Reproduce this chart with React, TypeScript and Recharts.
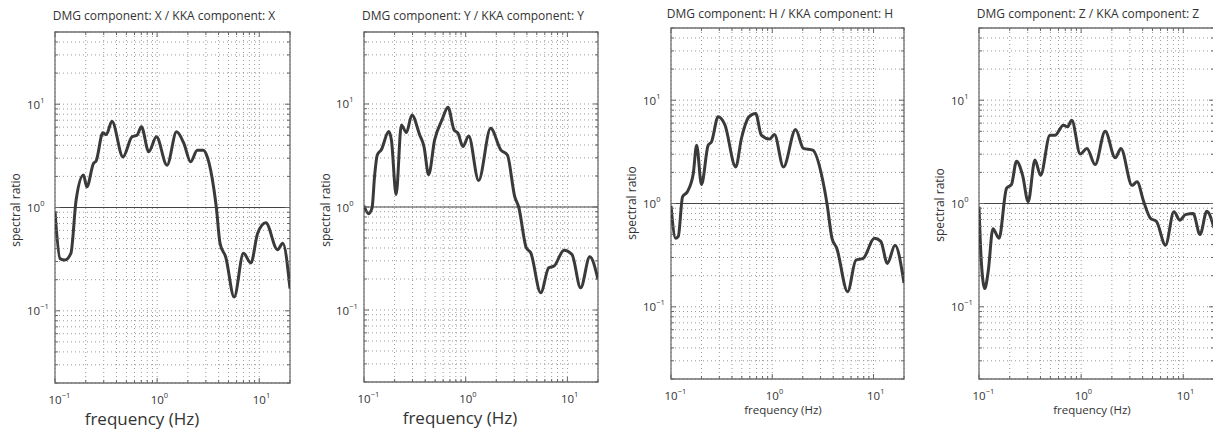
import React from 'react';
import {
  LineChart,
  Line,
  XAxis,
  YAxis,
  CartesianGrid,
  ReferenceLine,
  ReferenceArea,
  Customized,
} from 'recharts';

// ---------- data ----------
const xTicks = [0.1, 0.2, 0.3, 0.4, 0.5, 0.6, 0.7, 0.8, 0.9, 1, 2, 3, 4, 5, 6, 7, 8, 9, 10, 20];
const yTicks = [
  0.02, 0.03, 0.04, 0.05, 0.06, 0.07, 0.08, 0.09,
  0.1, 0.2, 0.3, 0.4, 0.5, 0.6, 0.7, 0.8, 0.9,
  1, 2, 3, 4, 5, 6, 7, 8, 9,
  10, 20, 30, 40, 50,
];
const decadeValues = [0.1, 1, 10];
const decadeExponents = ['\u22121', '0', '1'];

const titles = [
  'DMG component: X / KKA component: X',
  'DMG component: Y / KKA component: Y',
  'DMG component: H / KKA component: H',
  'DMG component: Z / KKA component: Z',
];
const xLabel = 'frequency (Hz)';
const yLabel = 'spectral ratio';

const freqX = [0.1, 0.112, 0.125, 0.143, 0.161, 0.19, 0.205, 0.238, 0.253, 0.294, 0.318, 0.361, 0.463, 0.568, 0.636, 0.701, 0.828, 0.984, 1.25, 1.55, 1.83, 2.13, 2.47, 2.83, 3.1, 3.61, 3.8, 4.13, 4.7, 5.68, 7.0, 8.28, 9.63, 11.6, 15.1, 17.0, 20];
const ratioX = [0.92, 0.32, 0.31, 0.36, 1.18, 2.06, 1.58, 2.67, 2.83, 5.28, 5.08, 6.84, 3.09, 4.83, 5.01, 6.04, 3.46, 4.83, 2.57, 5.4, 4.16, 2.77, 3.59, 3.59, 3.09, 1.47, 1.0, 0.45, 0.33, 0.136, 0.36, 0.29, 0.56, 0.71, 0.39, 0.45, 0.164];

const freqY = [0.1, 0.111, 0.12, 0.127, 0.135, 0.148, 0.175, 0.186, 0.207, 0.233, 0.261, 0.296, 0.353, 0.389, 0.432, 0.495, 0.585, 0.67, 0.768, 0.84, 0.94, 1.07, 1.34, 1.76, 2.21, 2.57, 3.03, 3.32, 3.95, 4.36, 5.47, 6.55, 7.39, 9.27, 11.1, 13.5, 16.6, 20];
const ratioY = [1.03, 0.86, 0.98, 1.98, 3.2, 3.59, 5.4, 4.48, 1.32, 6.26, 5.28, 7.83, 5.0, 3.86, 2.06, 4.48, 7.0, 9.3, 5.6, 5.2, 3.87, 4.9, 1.81, 5.8, 3.59, 3.2, 1.27, 1.0, 0.4, 0.36, 0.147, 0.257, 0.267, 0.381, 0.346, 0.164, 0.328, 0.198];

const freqH = [0.1, 0.111, 0.118, 0.13, 0.145, 0.166, 0.179, 0.2, 0.233, 0.251, 0.292, 0.34, 0.436, 0.496, 0.589, 0.686, 0.78, 0.94, 1.05, 1.29, 1.7, 2.03, 2.51, 3.15, 3.47, 3.89, 4.33, 5.55, 6.7, 7.9, 10.2, 11.8, 13.7, 16.3, 20];
const ratioH = [0.95, 0.46, 0.48, 1.16, 1.3, 1.95, 3.67, 1.53, 3.67, 3.95, 6.9, 5.8, 2.26, 4.26, 6.9, 7.43, 4.59, 4.2, 4.65, 2.26, 5.2, 3.41, 3.28, 1.68, 1.0, 0.46, 0.37, 0.14, 0.283, 0.294, 0.46, 0.43, 0.263, 0.395, 0.17];

const freqZ = [0.1, 0.105, 0.114, 0.123, 0.137, 0.157, 0.186, 0.208, 0.233, 0.267, 0.303, 0.353, 0.401, 0.495, 0.555, 0.67, 0.734, 0.81, 0.98, 1.14, 1.37, 1.72, 2.16, 2.45, 3.15, 3.53, 4.1, 4.77, 5.47, 6.7, 8.1, 9.27, 10.5, 12.5, 14.6, 17.0, 20];
const ratioZ = [0.93, 0.29, 0.15, 0.22, 0.57, 0.46, 1.4, 1.53, 2.57, 1.88, 1.04, 2.63, 1.88, 4.58, 4.58, 5.73, 5.52, 6.4, 3.02, 3.41, 2.38, 5.0, 2.77, 3.41, 1.5, 1.62, 1.04, 0.72, 0.67, 0.395, 0.83, 0.69, 0.78, 0.8, 0.5, 0.84, 0.58];

const zip = (fs: number[], vs: number[]) => fs.map((f, i) => ({ f, v: vs[i] }));
const seriesData = [zip(freqX, ratioX), zip(freqY, ratioY), zip(freqH, ratioH), zip(freqZ, ratioZ)];

// ---------- layout (positions / styles) ----------
const layout = [
  { left: 0, width: 300, pl: 55, pr: 290, pt: 32, pb: 383, titleX: 164, titleY: 20, xlX: 142, xlY: 425, xlSize: 17, ylX: 15, ylY: 210 },
  { left: 300, width: 310, pl: 64, pr: 298, pt: 32, pb: 382, titleX: 173, titleY: 20, xlX: 160, xlY: 424, xlSize: 17, ylX: 25, ylY: 210 },
  { left: 610, width: 300, pl: 61, pr: 294, pt: 28, pb: 379, titleX: 170, titleY: 18, xlX: 173, xlY: 414, xlSize: 11.5, ylX: 21, ylY: 203 },
  { left: 910, width: 306, pl: 69, pr: 304, pt: 28, pb: 379, titleX: 178, titleY: 18, xlX: 182, xlY: 414, xlSize: 11.5, ylX: 29, ylY: 205 },
];

const FONT = "'Open Sans', 'Noto Sans', sans-serif";
const TEXT = '#333';
const TICK = '#666';

const decadeIndex = (v: number) => decadeValues.findIndex((d) => Math.abs(d - v) < 1e-9);

function BottomTick(props: any) {
  const { x, y, payload } = props;
  const i = decadeIndex(payload.value);
  const len = i >= 0 ? 5 : 3;
  return (
    <g>
      <line x1={x} x2={x} y1={y} y2={y - len} stroke={TICK} strokeWidth={1} />
      {i >= 0 && (
        <text x={x - 6.5} y={y + 21} fontSize={11.5} fill={TEXT} fontFamily={FONT} textAnchor="start">
          10
          <tspan dy={-6} fontSize={7.5}>{decadeExponents[i]}</tspan>
        </text>
      )}
    </g>
  );
}

function TopTick(props: any) {
  const { x, y, payload } = props;
  const i = decadeIndex(payload.value);
  const len = i >= 0 ? 5 : 3;
  return <line x1={x} x2={x} y1={y} y2={y + len} stroke={TICK} strokeWidth={1} />;
}

function LeftTick(props: any) {
  const { x, y, payload } = props;
  const i = decadeIndex(payload.value);
  const len = i >= 0 ? 5 : 3;
  return (
    <g>
      <line x1={x} x2={x + len} y1={y} y2={y} stroke={TICK} strokeWidth={1} />
      {i >= 0 && (
        <text x={x - 28} y={y + 4.5} fontSize={11.5} fill={TEXT} fontFamily={FONT} textAnchor="start">
          10
          <tspan dy={-6} fontSize={7.5}>{decadeExponents[i]}</tspan>
        </text>
      )}
    </g>
  );
}

function RightTick(props: any) {
  const { x, y, payload } = props;
  const i = decadeIndex(payload.value);
  const len = i >= 0 ? 5 : 3;
  return <line x1={x} x2={x - len} y1={y} y2={y} stroke={TICK} strokeWidth={1} />;
}

function PanelText(props: any) {
  const { lay, title } = props;
  return (
    <g fontFamily={FONT} fill={TEXT}>
      <text x={lay.titleX} y={lay.titleY} textAnchor="middle" fontSize={12}>
        {title}
      </text>
      <text x={lay.xlX} y={lay.xlY} textAnchor="middle" fontSize={lay.xlSize}>
        {xLabel}
      </text>
      <text
        x={lay.ylX}
        y={lay.ylY}
        textAnchor="middle"
        dominantBaseline="central"
        fontSize={12}
        transform={`rotate(-90, ${lay.ylX}, ${lay.ylY})`}
      >
        {yLabel}
      </text>
    </g>
  );
}

function Panel({ idx }: { idx: number }) {
  const lay = layout[idx];
  const H = 439;
  return (
    <div style={{ position: 'absolute', left: lay.left, top: 0 }}>
      <LineChart
        width={lay.width}
        height={H}
        data={seriesData[idx]}
        margin={{ top: 0, right: 0, bottom: 0, left: 0 }}
      >
        <CartesianGrid stroke="#9a9a9a" strokeDasharray="1 3" strokeWidth={1} />
        <XAxis
          dataKey="f"
          type="number"
          scale="log"
          domain={[0.1, 20]}
          allowDataOverflow
          ticks={xTicks}
          interval={0}
          height={H - lay.pb}
          tickSize={0}
          tickMargin={0}
          axisLine={false}
          tickLine={false}
          tick={<BottomTick />}
        />
        <XAxis
          xAxisId="top"
          orientation="top"
          dataKey="f"
          type="number"
          scale="log"
          domain={[0.1, 20]}
          allowDataOverflow
          ticks={xTicks}
          interval={0}
          height={lay.pt}
          tickSize={0}
          tickMargin={0}
          axisLine={false}
          tickLine={false}
          tick={<TopTick />}
        />
        <YAxis
          type="number"
          scale="log"
          domain={[0.02, 50]}
          allowDataOverflow
          ticks={yTicks}
          interval={0}
          width={lay.pl}
          tickSize={0}
          tickMargin={0}
          axisLine={false}
          tickLine={false}
          tick={<LeftTick />}
        />
        <YAxis
          yAxisId="right"
          orientation="right"
          type="number"
          scale="log"
          domain={[0.02, 50]}
          allowDataOverflow
          ticks={yTicks}
          interval={0}
          width={lay.width - lay.pr}
          tickSize={0}
          tickMargin={0}
          axisLine={false}
          tickLine={false}
          tick={<RightTick />}
        />
        <ReferenceLine y={1} stroke="#444" strokeWidth={1} />
        <Line
          dataKey="v"
          type="monotone"
          stroke="#3a3a3a"
          strokeWidth={3}
          dot={false}
          activeDot={false}
          isAnimationActive={false}
        />
        <ReferenceArea x1={0.1} x2={20} y1={0.02} y2={50} fill="none" stroke="#707070" strokeWidth={1.3} />
        <Customized component={<PanelText lay={lay} title={titles[idx]} />} />
      </LineChart>
    </div>
  );
}

export default function App() {
  return (
    <div
      style={{
        position: 'fixed',
        left: 0,
        top: 0,
        width: 1213,
        height: 439,
        overflow: 'hidden',
        background: '#fff',
      }}
    >
      {[0, 1, 2, 3].map((i) => (
        <Panel key={i} idx={i} />
      ))}
    </div>
  );
}
